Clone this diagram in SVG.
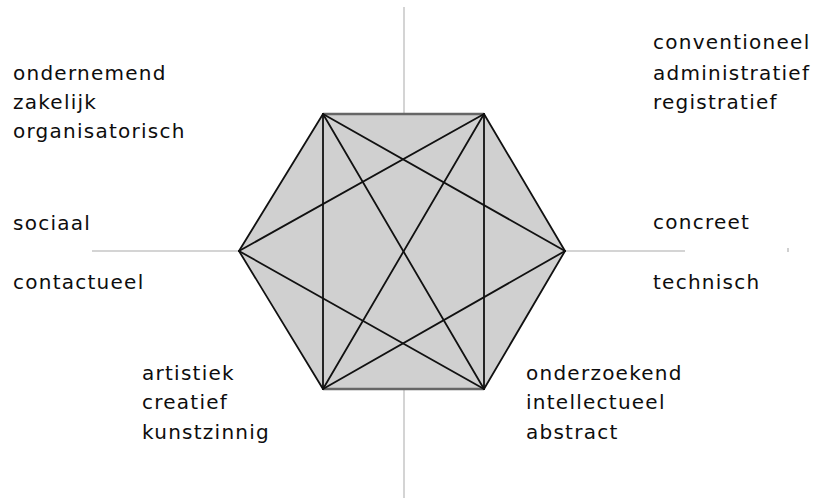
<svg xmlns="http://www.w3.org/2000/svg" width="814" height="503" viewBox="0 0 814 503">
<style>
.axis{stroke:#c6c6c6;stroke-width:1.5;fill:none}
.edge{stroke:#111;stroke-width:1.8;fill:none;stroke-linecap:round}
.edge2{stroke:#666;stroke-width:2.5;fill:none}
.lbl{font-family:"DejaVu Sans",sans-serif;font-size:20px;letter-spacing:1.25px;fill:#0d0d0d}
</style>
<rect width="814" height="503" fill="#fff"/>
<g id="axes">
<line class="axis" x1="404" y1="7" x2="404" y2="498"/>
<line class="axis" x1="92" y1="251" x2="685" y2="251"/>
<rect x="787" y="248" width="2" height="4" fill="#d0d0d0"/>
</g>
<g id="hexagon">
<polygon points="323,114 484,114 565,251 484,389 323,389 239,251" fill="#d0d0d0" stroke="none"/>
</g>
<g id="connectors">
<line class="edge2" x1="323" y1="114" x2="484" y2="114"/>
<line class="edge2" x1="323" y1="389" x2="484" y2="389"/>
<line class="edge" x1="484" y1="114" x2="565" y2="251"/>
<line class="edge" x1="565" y1="251" x2="484" y2="389"/>
<line class="edge" x1="323" y1="389" x2="239" y2="251"/>
<line class="edge" x1="239" y1="251" x2="323" y2="114"/>
<line class="edge" x1="323" y1="114" x2="323" y2="389"/>
<line class="edge" x1="484" y1="114" x2="484" y2="389"/>
<line class="edge" x1="323" y1="114" x2="565" y2="251"/>
<line class="edge" x1="323" y1="114" x2="484" y2="389"/>
<line class="edge" x1="484" y1="114" x2="239" y2="251"/>
<line class="edge" x1="484" y1="114" x2="323" y2="389"/>
<line class="edge" x1="239" y1="251" x2="484" y2="389"/>
<line class="edge" x1="565" y1="251" x2="323" y2="389"/>
</g>
<g id="label-ondernemend">
<text class="lbl" x="13" y="80">ondernemend</text>
<text class="lbl" x="13" y="109">zakelijk</text>
<text class="lbl" x="13" y="138">organisatorisch</text>
</g>
<g id="label-sociaal">
<text class="lbl" x="13" y="230">sociaal</text>
<text class="lbl" x="13" y="289">contactueel</text>
</g>
<g id="label-conventioneel">
<text class="lbl" x="653" y="49">conventioneel</text>
<text class="lbl" x="653" y="80">administratief</text>
<text class="lbl" x="653" y="109">registratief</text>
</g>
<g id="label-concreet">
<text class="lbl" x="653" y="229">concreet</text>
<text class="lbl" x="653" y="289">technisch</text>
</g>
<g id="label-artistiek">
<text class="lbl" x="142" y="380">artistiek</text>
<text class="lbl" x="142" y="409">creatief</text>
<text class="lbl" x="142" y="439">kunstzinnig</text>
</g>
<g id="label-onderzoekend">
<text class="lbl" x="526" y="380">onderzoekend</text>
<text class="lbl" x="526" y="409">intellectueel</text>
<text class="lbl" x="526" y="439">abstract</text>
</g>
</svg>
